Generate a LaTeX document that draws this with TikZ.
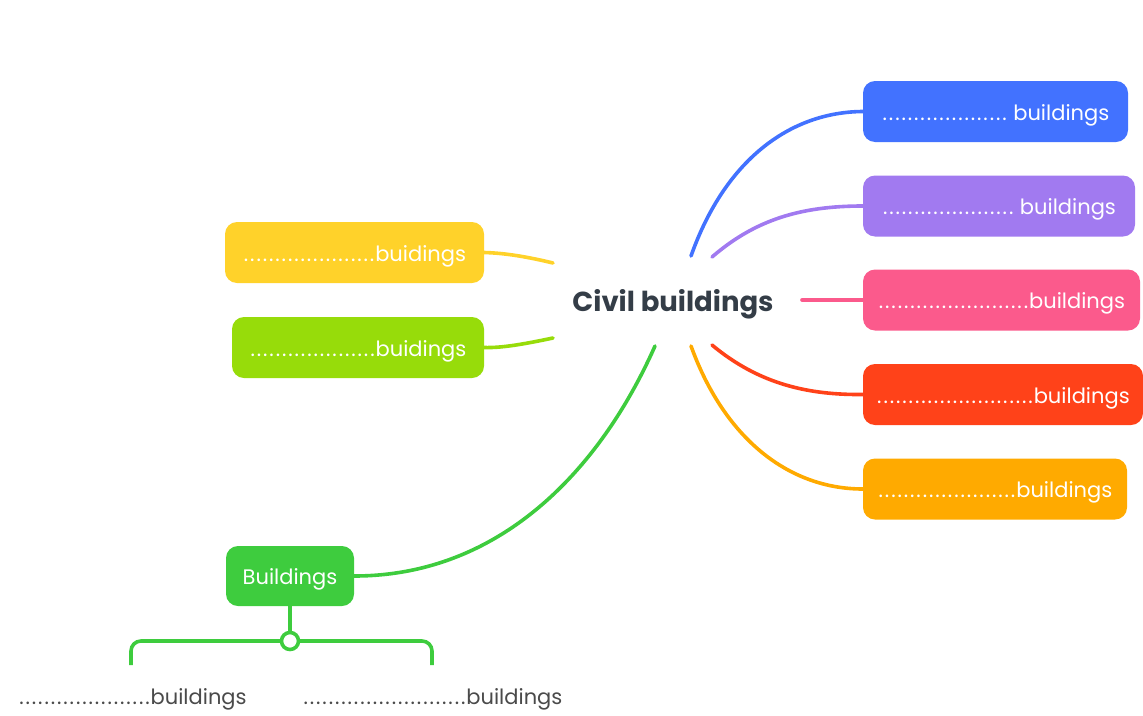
\documentclass[tikz,border=0pt]{standalone}
\usepackage{fontspec}
\setmainfont{Poppins}
\definecolor{cblue}{HTML}{4272FF}
\definecolor{cpurple}{HTML}{A17AF0}
\definecolor{cpink}{HTML}{FB5A8C}
\definecolor{cred}{HTML}{FF4219}
\definecolor{corange}{HTML}{FFAA00}
\definecolor{cyellow}{HTML}{FFD22A}
\definecolor{clime}{HTML}{97DC0A}
\definecolor{cgreen}{HTML}{3ECC3E}
\definecolor{cdark}{HTML}{343D47}
\definecolor{cgray}{HTML}{4A4A4A}
\newcount\mydotcnt
\newcommand\mydots[1]{\mydotcnt=0 \loop\ifnum\mydotcnt<#1 \makebox[6.3pt]{.}\advance\mydotcnt by 1 \repeat}
\begin{document}
\begin{tikzpicture}[x=1pt,y=-1pt,
  box/.style={rounded corners=12pt, minimum height=61pt, inner sep=0pt, text=white,
    text height=20pt, text depth=3pt, font=\fontsize{21}{24}\selectfont},
  link/.style={line width=3.6pt, line cap=round},
  leaf/.style={text=cgray, inner sep=0pt, font=\fontsize{21}{24}\selectfont}]
\useasboundingbox (0,0) rectangle (1143,715);
% central
\node[text=cdark, font=\fontsize{27.5}{30}\selectfont\bfseries, inner sep=0pt] (c) at (673,304) {Civil buildings};
% right boxes
\node[box, fill=cblue, minimum width=265pt] (b1) at (995.5,111.5) {\mydots{20} buildings};
\node[box, fill=cpurple, minimum width=272pt] (b2) at (999,206) {\mydots{21} buildings};
\node[box, fill=cpink, minimum width=277pt] (b3) at (1001.5,300) {\mydots{24}buildings};
\node[box, fill=cred, minimum width=280pt] (b4) at (1003,394.5) {\mydots{25}buildings};
\node[box, fill=corange, minimum width=264pt] (b5) at (995,489) {\mydots{22}buildings};
% left boxes
\node[box, fill=cyellow, minimum width=259pt] (y1) at (354.5,252.5) {\mydots{21}buidings};
\node[box, fill=clime, minimum width=252pt] (y2) at (358,347.5) {\mydots{20}buidings};
\node[box, fill=cgreen, minimum width=128pt, minimum height=60pt] (g) at (290,576) {Buildings};
% start points around the central topic
\coordinate (s1) at (691,256);
\coordinate (s2) at (712,257);
\coordinate (s3) at (802,300);
\coordinate (s4) at (712,345);
\coordinate (s5) at (691,346);
\coordinate (s6) at (553,263);
\coordinate (s7) at (553,338);
\coordinate (s8) at (655,346);
% connectors
\draw[link, cblue] (s1) .. controls (725,160) and (790,112) .. (b1.west);
\draw[link, cpurple] (s2) .. controls (755,220) and (800,206) .. (b2.west);
\draw[link, cpink] (s3) -- (b3.west);
\draw[link, cred] (s4) .. controls (760,385) and (810,395) .. (b4.west);
\draw[link, corange] (s5) .. controls (725,440) and (790,489) .. (b5.west);
\draw[link, cyellow] (s6) .. controls (520,255) and (500,253) .. (y1.east);
\draw[link, clime] (s7) .. controls (520,345) and (500,348) .. (y2.east);
\draw[link, cgreen] (s8) .. controls (600,470) and (500,576) .. (g.east);
% bracket
\coordinate (k1) at (131,665);
\coordinate (k2) at (432,665);
\draw[link, cgreen, line cap=butt, rounded corners=10pt] (k1) -- (131,641) -- (432,641) -- (k2);
\node[circle, draw=cgreen, line width=3.6pt, fill=white, minimum size=17pt, inner sep=0pt] (o) at (290,641) {};
\draw[link, cgreen, line cap=butt] (g.south) -- (o.north);
% leaves
\node[leaf] (l1) at (132.5,699) {\mydots{21}buildings};
\node[leaf] (l2) at (432.5,699) {\mydots{26}buildings};
\end{tikzpicture}
\end{document}
